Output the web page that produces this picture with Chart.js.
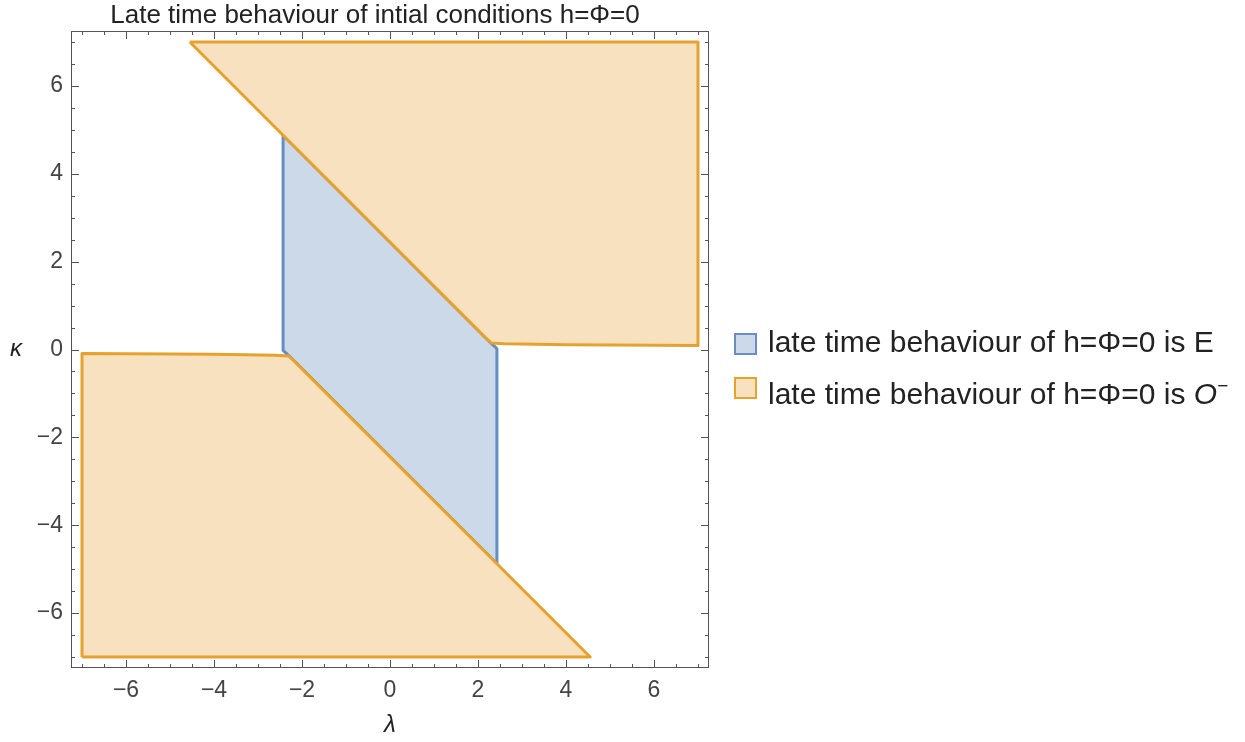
<!DOCTYPE html>
<html>
<head>
<meta charset="utf-8">
<script src="https://cdn.jsdelivr.net/npm/chart.js@4.4.1/dist/chart.umd.min.js"></script>
<style>
  body { margin: 0; background: #fff; }
  #wrap { position: relative; width: 1245px; height: 742px; }
  #plot { position: absolute; left: 0; top: 0; }
  .row { position: absolute; left: 734px; font: 30px "Liberation Sans", Arial, sans-serif; line-height: 30px; color: #222; white-space: nowrap; }
  .box { position: absolute; left: 0; width: 19px; height: 18px; border: 2px solid; }
  .txt { position: absolute; left: 34px; top: 0; }
  sup { font-size: 19px; vertical-align: 12px; }
</style>
</head>
<body>
<div id="wrap">
  <canvas id="plot" width="1245" height="742"></canvas>
  <div class="row" style="top:327px"><div class="box" style="top:6px;background:#CCD9E8;border-color:#6A8CC4"></div><span class="txt">late time behaviour of h=Φ=0 is E</span></div>
  <div class="row" style="top:371px"><div class="box" style="top:6px;background:#F8E1BE;border-color:#E5A22E"></div><span class="txt">late time behaviour of h=Φ=0 is <i>O</i><sup>−</sup></span></div>
</div>
<script>
        // region vertices (lambda, kappa)
        var blueLambda = [-2.43, -2.43, -2.29, 2.43, 2.43, 2.29, -2.43];
        var blueKappa  = [4.88, -0.02, -0.15, -4.88, 0.02, 0.15, 4.88];

        var orangeTopLambda = [-4.55, 7, 7, 4, 2.6, 2.3, 2.17, -4.55];
        var orangeTopKappa  = [7, 7, 0.09, 0.11, 0.13, 0.15, 0.27, 7];

        var orangeBottomLambda = [-7, -7, -4, -2.6, -2.3, -2.17, 4.55, -7];
        var orangeBottomKappa  = [-7, -0.09, -0.11, -0.13, -0.15, -0.27, -7, -7];

        var tickValues = [-6, -4, -2, 0, 2, 4, 6];

        const orangeEdge = '#E5A22E', orangeFill = '#F8E1BE',
              blueEdge = '#6A8CC4', blueFill = '#CCD9E8';

        function pts(xs, ys) {
            return xs.map((x, i) => ({ x: x, y: ys[i] }));
        }

        function region(xs, ys, edge, fill) {
            return {
                data: pts(xs, ys),
                showLine: true,
                fill: 'shape',
                backgroundColor: fill,
                borderColor: edge,
                borderWidth: 3,
                borderJoinStyle: 'round',
                pointRadius: 0,
                tension: 0
            };
        }

        const fmt = v => v < 0 ? '\u2212' + Math.abs(v) : '' + v;

        // frame, inward ticks, title and axis letters
        const framePlugin = {
            id: 'frame',
            afterDraw(chart) {
                const c = chart.ctx, a = chart.chartArea,
                      xs = chart.scales.x, ys = chart.scales.y;
                c.save();
                c.strokeStyle = '#555';
                c.lineWidth = 1;
                c.strokeRect(a.left + 0.5, a.top + 0.5, a.right - a.left - 1, a.bottom - a.top - 1);
                c.beginPath();
                for (let i = -14; i <= 14; i++) {
                    const v = i / 2;
                    const len = (i % 4 === 0) ? 8 : 4;
                    const px = Math.round(xs.getPixelForValue(v)) + 0.5;
                    c.moveTo(px, a.bottom); c.lineTo(px, a.bottom - len);
                    c.moveTo(px, a.top); c.lineTo(px, a.top + len);
                    const py = Math.round(ys.getPixelForValue(v)) + 0.5;
                    c.moveTo(a.left, py); c.lineTo(a.left + len, py);
                    c.moveTo(a.right, py); c.lineTo(a.right - len, py);
                }
                c.stroke();

                c.fillStyle = '#222';
                c.textAlign = 'center';
                c.textBaseline = 'alphabetic';
                c.font = '26px "Liberation Sans", Arial, sans-serif';
                c.fillText('Late time behaviour of intial conditions h=\u03A6=0', 375, 23);

                c.font = 'italic 24px "Liberation Sans", Arial, sans-serif';
                c.textBaseline = 'middle';
                c.fillText('\u03BB', xs.getPixelForValue(0), 725);
                c.fillText('\u03BA', 16, ys.getPixelForValue(0));
                c.restore();
            }
        };

        const tickFont = { family: '"Liberation Sans", Arial, sans-serif', size: 23 };

        var config = {
            type: 'scatter',
            data: {
                datasets: [
                    region(orangeTopLambda, orangeTopKappa, orangeEdge, orangeFill),
                    region(orangeBottomLambda, orangeBottomKappa, orangeEdge, orangeFill),
                    region(blueLambda, blueKappa, blueEdge, blueFill)
                ]
            },
            options: {
                responsive: false,
                animation: false,
                layout: { padding: { top: 31, left: 0, right: 1245 - 709, bottom: 0 } },
                plugins: {
                    legend: { display: false },
                    tooltip: { enabled: false }
                },
                scales: {
                    x: {
                        type: 'linear',
                        min: -7.25, max: 7.25,
                        grid: { display: false, drawTicks: false },
                        border: { display: false },
                        afterBuildTicks: s => { s.ticks = tickValues.map(v => ({ value: v })); },
                        afterFit: s => { s.height = 742 - 668; },
                        ticks: { color: '#444', font: tickFont, padding: 9, maxRotation: 0, callback: fmt }
                    },
                    y: {
                        type: 'linear',
                        min: -7.25, max: 7.25,
                        grid: { display: false, drawTicks: false },
                        border: { display: false },
                        afterBuildTicks: s => { s.ticks = tickValues.map(v => ({ value: v })); },
                        afterFit: s => { s.width = 71; },
                        ticks: { color: '#444', font: tickFont, padding: 8, callback: fmt }
                    }
                }
            },
            plugins: [framePlugin]
        };

        new Chart(document.getElementById('plot').getContext('2d'), config);
</script>
</body>
</html>
